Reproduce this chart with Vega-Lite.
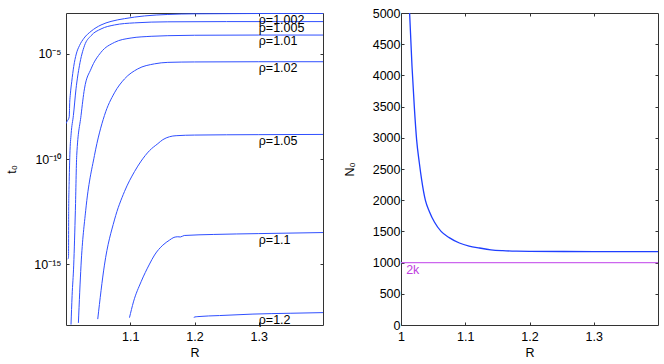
{
  "$schema": "https://vega.github.io/schema/vega-lite/v6.json",
  "padding": {"left": 5, "top": 7, "right": 5, "bottom": 0},
  "background": "white",
  "config": {
    "font": "Liberation Sans",
    "view": {"stroke": null},
    "axis": {
      "grid": false,
      "domainColor": "#333333",
      "tickColor": "#333333",
      "labelColor": "#000000",
      "titleColor": "#000000",
      "labelFontSize": 12.5,
      "titleFontSize": 12.5,
      "titleFontWeight": "normal",
      "tickSize": -3,
      "labelPadding": 8,
      "labelFlush": false,
      "labelOverlap": false,
      "domainWidth": 1,
      "tickWidth": 1
    },
    "concat": {"spacing": 19}
  },
  "datasets": {
    "curves": [
      {"rho": "1.002", "R": 1.0000, "t0": 4.786e-9},
      {"rho": "1.002", "R": 1.0015, "t0": 6.026e-9},
      {"rho": "1.002", "R": 1.0050, "t0": 1e-8},
      {"rho": "1.002", "R": 1.0058, "t0": 5.012e-8},
      {"rho": "1.002", "R": 1.0068, "t0": 1.259e-7},
      {"rho": "1.002", "R": 1.0090, "t0": 5.012e-7},
      {"rho": "1.002", "R": 1.0120, "t0": 2.512e-6},
      {"rho": "1.002", "R": 1.0160, "t0": 1e-5},
      {"rho": "1.002", "R": 1.0210, "t0": 2.512e-5},
      {"rho": "1.002", "R": 1.0280, "t0": 5.623e-5},
      {"rho": "1.002", "R": 1.0390, "t0": 1.202e-4},
      {"rho": "1.002", "R": 1.0545, "t0": 2.399e-4},
      {"rho": "1.002", "R": 1.0701, "t0": 3.548e-4},
      {"rho": "1.002", "R": 1.0910, "t0": 4.786e-4},
      {"rho": "1.002", "R": 1.1222, "t0": 6.457e-4},
      {"rho": "1.002", "R": 1.1585, "t0": 7.586e-4},
      {"rho": "1.002", "R": 1.2000, "t0": 8.128e-4},
      {"rho": "1.002", "R": 1.3000, "t0": 8.414e-4},
      {"rho": "1.002", "R": 1.4000, "t0": 8.511e-4},

      {"rho": "1.005", "R": 1.0028, "t0": 1.738e-15},
      {"rho": "1.005", "R": 1.0037, "t0": 1.905e-15},
      {"rho": "1.005", "R": 1.0040, "t0": 2.512e-15},
      {"rho": "1.005", "R": 1.0042, "t0": 3.631e-13},
      {"rho": "1.005", "R": 1.0050, "t0": 1e-11},
      {"rho": "1.005", "R": 1.0060, "t0": 1.585e-10},
      {"rho": "1.005", "R": 1.0080, "t0": 1.585e-9},
      {"rho": "1.005", "R": 1.0115, "t0": 1.175e-8},
      {"rho": "1.005", "R": 1.0156, "t0": 2.188e-7},
      {"rho": "1.005", "R": 1.0209, "t0": 2.754e-6},
      {"rho": "1.005", "R": 1.0287, "t0": 2.455e-5},
      {"rho": "1.005", "R": 1.0390, "t0": 7.413e-5},
      {"rho": "1.005", "R": 1.0545, "t0": 1.549e-4},
      {"rho": "1.005", "R": 1.0754, "t0": 2.399e-4},
      {"rho": "1.005", "R": 1.1066, "t0": 3.020e-4},
      {"rho": "1.005", "R": 1.1585, "t0": 3.388e-4},
      {"rho": "1.005", "R": 1.2500, "t0": 3.467e-4},
      {"rho": "1.005", "R": 1.4000, "t0": 3.467e-4},

      {"rho": "1.01", "R": 1.0078, "t0": 1.318e-18},
      {"rho": "1.01", "R": 1.0095, "t0": 3.162e-17},
      {"rho": "1.01", "R": 1.0120, "t0": 8.913e-16},
      {"rho": "1.01", "R": 1.0146, "t0": 3.631e-13},
      {"rho": "1.01", "R": 1.0167, "t0": 1.479e-10},
      {"rho": "1.01", "R": 1.0234, "t0": 1.175e-8},
      {"rho": "1.01", "R": 1.0287, "t0": 2.188e-7},
      {"rho": "1.01", "R": 1.0390, "t0": 1.950e-6},
      {"rho": "1.01", "R": 1.0545, "t0": 1.202e-5},
      {"rho": "1.01", "R": 1.0754, "t0": 3.548e-5},
      {"rho": "1.01", "R": 1.1013, "t0": 5.754e-5},
      {"rho": "1.01", "R": 1.1325, "t0": 6.918e-5},
      {"rho": "1.01", "R": 1.1585, "t0": 7.413e-5},
      {"rho": "1.01", "R": 1.2000, "t0": 7.762e-5},
      {"rho": "1.01", "R": 1.3000, "t0": 7.943e-5},
      {"rho": "1.01", "R": 1.4000, "t0": 7.943e-5},

      {"rho": "1.02", "R": 1.0193, "t0": 1.585e-18},
      {"rho": "1.02", "R": 1.0234, "t0": 8.913e-16},
      {"rho": "1.02", "R": 1.0307, "t0": 3.631e-13},
      {"rho": "1.02", "R": 1.0443, "t0": 1.479e-10},
      {"rho": "1.02", "R": 1.0598, "t0": 1.175e-8},
      {"rho": "1.02", "R": 1.0754, "t0": 1.413e-7},
      {"rho": "1.02", "R": 1.0910, "t0": 6.457e-7},
      {"rho": "1.02", "R": 1.1117, "t0": 1.950e-6},
      {"rho": "1.02", "R": 1.1378, "t0": 3.388e-6},
      {"rho": "1.02", "R": 1.1585, "t0": 3.981e-6},
      {"rho": "1.02", "R": 1.2000, "t0": 4.169e-6},
      {"rho": "1.02", "R": 1.3000, "t0": 4.266e-6},
      {"rho": "1.02", "R": 1.4000, "t0": 4.266e-6},

      {"rho": "1.05", "R": 1.0494, "t0": 2.399e-18},
      {"rho": "1.05", "R": 1.0598, "t0": 8.913e-16},
      {"rho": "1.05", "R": 1.0754, "t0": 1.259e-13},
      {"rho": "1.05", "R": 1.0910, "t0": 2.818e-12},
      {"rho": "1.05", "R": 1.1066, "t0": 2.512e-11},
      {"rho": "1.05", "R": 1.1169, "t0": 7.943e-11},
      {"rho": "1.05", "R": 1.1300, "t0": 2.512e-10},
      {"rho": "1.05", "R": 1.1429, "t0": 5.370e-10},
      {"rho": "1.05", "R": 1.1507, "t0": 8.318e-10},
      {"rho": "1.05", "R": 1.1611, "t0": 1.148e-9},
      {"rho": "1.05", "R": 1.1714, "t0": 1.288e-9},
      {"rho": "1.05", "R": 1.2000, "t0": 1.380e-9},
      {"rho": "1.05", "R": 1.3000, "t0": 1.445e-9},
      {"rho": "1.05", "R": 1.4000, "t0": 1.479e-9},

      {"rho": "1.1", "R": 1.0988, "t0": 2.818e-18},
      {"rho": "1.1", "R": 1.1050, "t0": 1.585e-17},
      {"rho": "1.1", "R": 1.1169, "t0": 1.445e-16},
      {"rho": "1.1", "R": 1.1300, "t0": 1e-15},
      {"rho": "1.1", "R": 1.1378, "t0": 2.692e-15},
      {"rho": "1.1", "R": 1.1507, "t0": 7.943e-15},
      {"rho": "1.1", "R": 1.1611, "t0": 1.380e-14},
      {"rho": "1.1", "R": 1.1680, "t0": 1.862e-14},
      {"rho": "1.1", "R": 1.1740, "t0": 1.995e-14},
      {"rho": "1.1", "R": 1.1780, "t0": 1.950e-14},
      {"rho": "1.1", "R": 1.1840, "t0": 2.291e-14},
      {"rho": "1.1", "R": 1.2300, "t0": 2.570e-14},
      {"rho": "1.1", "R": 1.3000, "t0": 2.818e-14},
      {"rho": "1.1", "R": 1.4000, "t0": 3.162e-14},

      {"rho": "1.2", "R": 1.1990, "t0": 2.754e-18},
      {"rho": "1.2", "R": 1.2000, "t0": 3.020e-18},
      {"rho": "1.2", "R": 1.2053, "t0": 3.162e-18},
      {"rho": "1.2", "R": 1.2390, "t0": 3.548e-18},
      {"rho": "1.2", "R": 1.2910, "t0": 4.169e-18},
      {"rho": "1.2", "R": 1.3500, "t0": 4.571e-18},
      {"rho": "1.2", "R": 1.4000, "t0": 4.898e-18}
    ],
    "labels": [
      {"label": "ρ=1.002", "R": 1.3, "t0": 8.414e-4},
      {"label": "ρ=1.005", "R": 1.3, "t0": 3.467e-4},
      {"label": "ρ=1.01", "R": 1.3, "t0": 7.943e-5},
      {"label": "ρ=1.02", "R": 1.3, "t0": 4.266e-6},
      {"label": "ρ=1.05", "R": 1.3, "t0": 1.445e-9},
      {"label": "ρ=1.1", "R": 1.3, "t0": 2.818e-14},
      {"label": "ρ=1.2", "R": 1.3, "t0": 4.169e-18}
    ],
    "n0": [
      {"R": 1.0134, "N0": 5000},
      {"R": 1.0171, "N0": 4150},
      {"R": 1.0207, "N0": 3500},
      {"R": 1.0243, "N0": 2970},
      {"R": 1.0285, "N0": 2600},
      {"R": 1.0321, "N0": 2330},
      {"R": 1.0379, "N0": 2000},
      {"R": 1.0441, "N0": 1820},
      {"R": 1.0520, "N0": 1650},
      {"R": 1.0624, "N0": 1500},
      {"R": 1.0750, "N0": 1400},
      {"R": 1.0909, "N0": 1314},
      {"R": 1.1060, "N0": 1265},
      {"R": 1.1221, "N0": 1234},
      {"R": 1.1400, "N0": 1205},
      {"R": 1.1584, "N0": 1191},
      {"R": 1.1800, "N0": 1183},
      {"R": 1.2000, "N0": 1180},
      {"R": 1.3000, "N0": 1177},
      {"R": 1.4000, "N0": 1175}
    ],
    "twok": [
      {"R": 1.0, "N0": 1000},
      {"R": 1.4, "N0": 1000}
    ],
    "twoklabel": [
      {"label": "2k", "R": 1.008, "N0": 1000}
    ]
  },
  "hconcat": [
    {
      "width": 257,
      "height": 312,
      "layer": [
        {
          "data": {"name": "curves"},
          "mark": {"type": "line", "color": "#2f4fff", "strokeWidth": 1, "clip": true, "interpolate": "monotone"},
          "encoding": {
            "x": {"field": "R", "type": "quantitative", "scale": {"domain": [1, 1.4], "nice": false},
                  "axis": {"orient": "bottom", "values": [1.1, 1.2, 1.3], "format": ".1f", "title": "R", "titlePadding": 4}},
            "y": {"field": "t0", "type": "quantitative", "scale": {"type": "log", "domain": [1.26e-18, 8.9e-4], "nice": false},
                  "axis": {"orient": "left", "values": [1e-15, 1e-10, 1e-5], "labelExpr": "datum.value > 1e-7 ? '10⁻⁵' : datum.value > 1e-12 ? '10⁻¹⁰' : '10⁻¹⁵'", "title": "t₀", "titlePadding": 15}},
            "detail": {"field": "rho", "type": "nominal"}
          }
        },
        {
          "data": {"name": "labels"},
          "mark": {"type": "text", "align": "left", "baseline": "top", "fontSize": 12.5, "color": "#000000", "dy": 0, "dx": 0},
          "encoding": {
            "x": {"field": "R", "type": "quantitative",
                  "axis": {"orient": "top", "values": [1.1, 1.2, 1.3], "labels": false, "title": null}},
            "y": {"field": "t0", "type": "quantitative",
                  "axis": {"orient": "right", "values": [1e-15, 1e-10, 1e-5], "labels": false, "title": null}},
            "text": {"field": "label"}
          }
        }
      ],
      "resolve": {"axis": {"x": "independent", "y": "independent"}}
    },
    {
      "width": 257,
      "height": 312,
      "layer": [
        {
          "data": {"name": "n0"},
          "mark": {"type": "line", "color": "#1f3fff", "strokeWidth": 1.3, "clip": true, "interpolate": "monotone"},
          "encoding": {
            "x": {"field": "R", "type": "quantitative", "scale": {"domain": [1, 1.4], "nice": false},
                  "axis": {"orient": "bottom", "values": [1, 1.1, 1.2, 1.3], "format": ".1~f", "title": "R", "titlePadding": 4}},
            "y": {"field": "N0", "type": "quantitative", "scale": {"domain": [0, 5000], "nice": false},
                  "axis": {"orient": "left", "values": [0, 500, 1000, 1500, 2000, 2500, 3000, 3500, 4000, 4500, 5000], "format": "d", "title": "N₀", "titlePadding": 15.5, "labelPadding": 4}}
          }
        },
        {
          "data": {"name": "twok"},
          "mark": {"type": "line", "color": "#cc66ee", "strokeWidth": 1.2, "clip": true},
          "encoding": {
            "x": {"field": "R", "type": "quantitative", "axis": null},
            "y": {"field": "N0", "type": "quantitative", "axis": null}
          }
        },
        {
          "data": {"name": "twoklabel"},
          "mark": {"type": "text", "align": "left", "baseline": "top", "fontSize": 12.5, "color": "#c040e0", "dy": 1},
          "encoding": {
            "x": {"field": "R", "type": "quantitative",
                  "axis": {"orient": "top", "values": [1.1, 1.2, 1.3], "labels": false, "title": null}},
            "y": {"field": "N0", "type": "quantitative",
                  "axis": {"orient": "right", "values": [500, 1000, 1500, 2000, 2500, 3000, 3500, 4000, 4500], "labels": false, "title": null}},
            "text": {"field": "label"}
          }
        }
      ],
      "resolve": {"axis": {"x": "independent", "y": "independent"}}
    }
  ]
}
